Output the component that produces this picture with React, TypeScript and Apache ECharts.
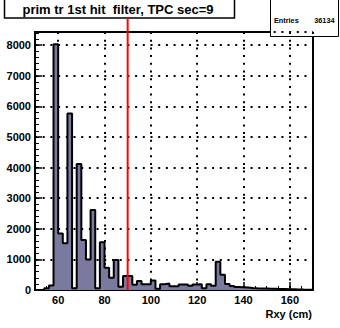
import { useEffect, useRef } from 'react';
import * as echarts from 'echarts';

// Histogram bin lower edges (cm) and bin contents
const binLowEdges = [
  50, 52, 54, 56, 58, 60, 62, 64, 66, 68,
  70, 72, 74, 76, 78, 80, 82, 84, 86, 88,
  90, 92, 94, 96, 98, 100, 102, 104, 106, 108,
  110, 112, 114, 116, 118, 120, 122, 124, 126, 128,
  130, 132, 134, 136, 138, 140, 142, 144, 146, 148,
  150, 152, 154, 156, 158, 160, 162, 164, 166, 168,
];
const binUpperEdge = 170;
const binCounts = [
  0, 0, 60, 150, 8030, 1850, 1530, 5770, 60, 4120,
  1630, 1000, 2610, 60, 1560, 730, 400, 980, 110, 460,
  460, 170, 290, 190, 190, 310, 40, 190, 210, 120,
  120, 180, 180, 140, 180, 190, 60, 190, 140, 920,
  500, 200, 130, 100, 90, 80, 65, 55, 50, 45,
  40, 40, 35, 30, 25, 25, 20, 15, 12, 8,
];
const xRange = [50, 170];
const yRange = [0, 8430];
const cutPosition = 90;
const cutLineTop = 8900;
const titleText = 'prim tr 1st hit  filter, TPC sec=9';
const statsLabel = 'Entries';
const statsValue = '36134';
const xAxisTitle = 'Rxy (cm)';

const FONT = "'Liberation Sans', Arial, Helvetica, sans-serif";

export default function App() {
  const ref = useRef<HTMLDivElement>(null);
  useEffect(() => {
    const chart = echarts.init(ref.current!, null, { renderer: 'svg' });
    const stepData: number[][] = binLowEdges.map((e, i) => [e, binCounts[i]]);
    stepData.push([binUpperEdge, binCounts[binCounts.length - 1]]);

    const dotted = { color: '#000', width: 2, type: [2, 5.7] as number[] };

    chart.setOption({
      animation: false,
      backgroundColor: '#fff',
      grid: {
        left: 35,
        right: 27,
        top: 32,
        bottom: 38,
        show: true,
        borderColor: '#000',
        borderWidth: 2,
        backgroundColor: '#fff',
      },
      xAxis: [
        {
          type: 'value',
          min: xRange[0],
          max: xRange[1],
          splitNumber: 6,
          position: 'bottom',
          axisLine: { show: true, lineStyle: { color: '#000', width: 2 } },
          axisTick: { show: true, inside: true, length: 8, lineStyle: { color: '#000', width: 1.5 } },
          axisLabel: {
            color: '#000',
            fontWeight: 'bold',
            fontSize: 11,
            fontFamily: FONT,
            margin: 4,
            formatter: (v: number) => (v % 20 === 0 && v > xRange[0] && v < xRange[1] ? String(v) : ''),
          },
          splitLine: { show: true, lineStyle: dotted },
        },
        {
          type: 'value',
          min: xRange[0],
          max: xRange[1],
          interval: 5,
          position: 'bottom',
          axisLine: { show: false },
          axisTick: { show: true, inside: true, length: 4, lineStyle: { color: '#000', width: 1 } },
          axisLabel: { show: false },
          splitLine: { show: false },
        },
      ],
      yAxis: [
        {
          type: 'value',
          min: yRange[0],
          max: yRange[1],
          interval: 1000,
          position: 'left',
          axisLine: { show: true, lineStyle: { color: '#000', width: 2 } },
          axisTick: { show: true, inside: true, length: 7, lineStyle: { color: '#000', width: 1.5 } },
          axisLabel: {
            color: '#000',
            fontWeight: 'bold',
            fontSize: 11,
            fontFamily: FONT,
            margin: 4,
            formatter: (v: number) => (v % 1000 === 0 ? String(v) : ''),
          },
          splitLine: { show: true, lineStyle: dotted },
        },
        {
          type: 'value',
          min: yRange[0],
          max: yRange[1],
          interval: 200,
          position: 'left',
          axisLine: { show: false },
          axisTick: { show: true, inside: true, length: 4, lineStyle: { color: '#000', width: 1 } },
          axisLabel: { show: false },
          splitLine: { show: false },
        },
      ],
      series: [
        {
          type: 'line',
          xAxisIndex: 0,
          yAxisIndex: 0,
          data: stepData,
          step: 'end',
          symbol: 'none',
          lineStyle: { color: '#000', width: 2 },
          areaStyle: { color: '#7a7a9e', opacity: 1 },
          z: 3,
        },
        {
          type: 'line',
          xAxisIndex: 0,
          yAxisIndex: 0,
          data: [
            [cutPosition, 0],
            [cutPosition, cutLineTop],
          ],
          clip: false,
          symbol: 'none',
          lineStyle: { color: '#ff0000', width: 2 },
          z: 4,
        },
      ],
      graphic: [
        {
          type: 'group',
          z: 100,
          children: [
            {
              type: 'rect',
              shape: { x: 4.5, y: -2, width: 230, height: 20 },
              style: { fill: '#fff', stroke: '#000', lineWidth: 1.5 },
            },
            {
              type: 'text',
              x: 118,
              y: 9,
              style: {
                text: titleText,
                fill: '#000',
                font: `bold 13px ${FONT}`,
                align: 'center',
                verticalAlign: 'middle',
              },
            },
          ],
        },
        {
          type: 'group',
          z: 100,
          children: [
            {
              type: 'rect',
              shape: { x: 270.5, y: -2, width: 68, height: 38.5 },
              style: { fill: '#fff', stroke: '#000', lineWidth: 1 },
            },
            {
              type: 'text',
              x: 274,
              y: 20,
              style: {
                text: statsLabel,
                fill: '#000',
                font: `bold 7.3px ${FONT}`,
                align: 'left',
                verticalAlign: 'middle',
              },
            },
            {
              type: 'text',
              x: 334.5,
              y: 20,
              style: {
                text: statsValue,
                fill: '#000',
                font: `bold 7.3px ${FONT}`,
                align: 'right',
                verticalAlign: 'middle',
              },
            },
          ],
        },
        {
          type: 'text',
          x: 312,
          y: 314,
          z: 100,
          style: {
            text: xAxisTitle,
            fill: '#000',
            font: `bold 11px ${FONT}`,
            align: 'right',
            verticalAlign: 'middle',
          },
        },
      ],
    });
    return () => chart.dispose();
  }, []);
  return <div ref={ref} style={{ position: 'fixed', left: 0, top: 0, width: 340, height: 328 }} />;
}
